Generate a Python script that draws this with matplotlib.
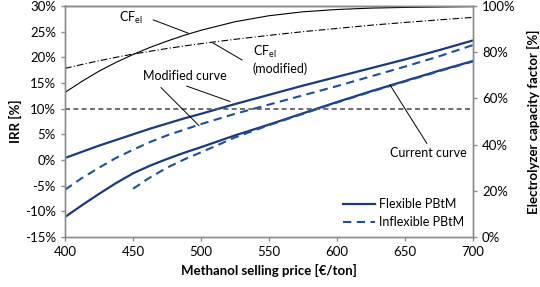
import matplotlib
matplotlib.use("Agg")
import matplotlib.pyplot as plt
import numpy as np
from matplotlib.ticker import FuncFormatter, MultipleLocator

plt.rcParams['font.family'] = ['Lato', 'DejaVu Sans']

price = [400, 412.5, 425, 437.5, 450, 462.5, 475, 487.5, 500, 525, 550, 575, 600, 625, 650, 675, 700]
irr_flex_modified = [0.4, 1.6, 2.8, 3.9, 5.0, 6.1, 7.1, 8.1, 9.0, 10.9, 12.7, 14.5, 16.2, 17.9, 19.6, 21.4, 23.3]
irr_inflex_modified = [-5.8, -3.5, -1.5, 0.4, 2.0, 3.5, 4.8, 5.9, 7.0, 9.0, 10.8, 12.6, 14.4, 16.3, 18.2, 20.2, 22.4]
irr_flex_current = [-11.1, -8.8, -6.6, -4.5, -2.6, -1.1, 0.2, 1.4, 2.5, 4.8, 6.9, 9.1, 11.3, 13.4, 15.4, 17.4, 19.3]
irr_inflex_current = [np.nan, np.nan, np.nan, np.nan, -5.6, -3.4, -1.5, 0.1, 1.5, 4.4, 6.8, 9.0, 11.2, 13.3, 15.3, 17.3, 19.2]
cf_el = [62.6, 67.4, 71.8, 75.6, 79.0, 82.1, 84.8, 87.3, 89.5, 93.2, 95.8, 97.5, 98.5, 99.1, 99.4, 99.6, 99.8]
cf_el_modified = [73.0, 74.7, 76.3, 77.8, 79.2, 80.4, 81.6, 82.7, 83.7, 85.6, 87.3, 88.9, 90.3, 91.7, 92.9, 94.0, 95.1]
irr_target = 10

solid_c = '#1B3A7E'
dash_c = '#1F4F9A'
spine_c = '#8C8C8C'

fig = plt.figure(figsize=(5.4, 2.87), dpi=100)
ax = fig.add_axes([0.1204, 0.1742, 0.7556, 0.8048])
ax2 = ax.twinx()

ax.plot(price, irr_flex_modified, color=solid_c, lw=1.6)
ax.plot(price, irr_inflex_modified, color=dash_c, lw=1.5, dashes=(4, 2.6))
ax.plot(price, irr_flex_current, color=solid_c, lw=1.6, label='Flexible PBtM')
ax.plot(price, irr_inflex_current, color=dash_c, lw=1.5, dashes=(4, 2.6), label='Inflexible PBtM')
ax.plot([price[0], price[-1]], [irr_target, irr_target], color='#555555', lw=1.2, dashes=(3, 2))

ax2.plot(price, cf_el, color='black', lw=0.8)
ax2.plot(price, cf_el_modified, color='black', lw=0.8, dashes=(6, 2, 1, 2))

ax.set_xlim(400, 700)
ax.set_ylim(-15, 30)
ax2.set_ylim(0, 100)
ax.xaxis.set_major_locator(MultipleLocator(50))
ax.yaxis.set_major_locator(MultipleLocator(5))
ax2.yaxis.set_major_locator(MultipleLocator(20))
ax.yaxis.set_major_formatter(FuncFormatter(lambda v, p: f"{v:.0f}%"))
ax2.yaxis.set_major_formatter(FuncFormatter(lambda v, p: f"{v:.0f}%"))

for a in (ax, ax2):
    for s in a.spines.values():
        s.set_color(spine_c)
        s.set_linewidth(1.0)
    a.tick_params(colors=spine_c, labelcolor='black', labelsize=9.5, length=3, width=1.0, direction='out')
ax.spines['top'].set_color('#333333')

ax.set_xlabel('Methanol selling price [€/ton]', fontsize=9.5, fontweight='bold', labelpad=4)
ax.set_ylabel('IRR [%]', fontsize=9.5, fontweight='bold', labelpad=2)
ax2.set_ylabel('Electrolyzer capacity factor [%]', fontsize=9.5, fontweight='bold', labelpad=8)

fs = 9
ax.text(448.5, 27.7, 'CF$_{\\mathregular{el}}$', fontsize=fs, ha='center', va='center')
ax.plot([464.9, 490.7], [27.3, 24.7], color='black', lw=0.7)
ax.text(538.2, 19.6, 'CF$_{\\mathregular{el}}$\n(modified)', fontsize=fs, ha='left', va='center', linespacing=1.2)
ax.plot([508.8, 530.1], [22.8, 19.5], color='black', lw=0.7)
ax.text(488.2, 16.4, 'Modified curve', fontsize=fs, ha='center', va='center')
ax.plot([470.6, 498.5], [14.1, 6.7], color='black', lw=0.7)
ax.plot([489.5, 521.3], [14.4, 11.4], color='black', lw=0.7)
ax.text(666.9, 1.4, 'Current curve', fontsize=fs, ha='center', va='center')
ax.plot([666.0, 639.0], [3.25, 14.6], color='black', lw=0.7)

ax.legend(loc='lower right', bbox_to_anchor=(1.0, 0.0), frameon=False, fontsize=fs,
          handlelength=2.6, handletextpad=0.3, labelspacing=0.5, borderaxespad=0.3)

fig.savefig('out.png', dpi=100)
